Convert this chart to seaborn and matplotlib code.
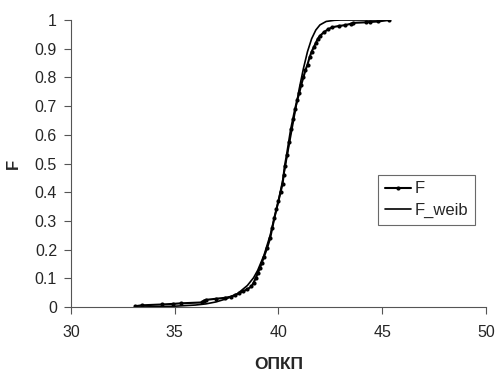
import numpy as np
import pandas as pd
import matplotlib
matplotlib.use('Agg')
import matplotlib.pyplot as plt
import seaborn as sns

# empirical distribution (ОПКП, F)
opkp_emp = [33.1, 33.4, 34.4, 34.9, 35.3, 36.3, 36.4, 36.5, 37.0, 37.4,
            37.7, 37.9, 38.1, 38.3, 38.5, 38.7, 38.8, 38.9, 39.0, 39.1,
            39.2, 39.3, 39.45, 39.6, 39.7, 39.8, 39.9, 40.0, 40.1, 40.2,
            40.25, 40.3, 40.4, 40.5, 40.6, 40.7, 40.8, 40.9, 41.0, 41.1,
            41.2, 41.3, 41.4, 41.5, 41.6, 41.7, 41.8, 41.9, 42.0, 42.2,
            42.4, 42.6, 42.9, 43.2, 43.5, 43.6, 44.2, 44.4, 44.8, 45.35]
f_emp = [0.003, 0.006, 0.009, 0.011, 0.013, 0.016, 0.022, 0.025, 0.029, 0.032,
         0.036, 0.042, 0.048, 0.055, 0.062, 0.072, 0.085, 0.100, 0.118, 0.135,
         0.155, 0.175, 0.205, 0.240, 0.275, 0.310, 0.340, 0.370, 0.400, 0.430,
         0.460, 0.490, 0.530, 0.575, 0.620, 0.655, 0.690, 0.720, 0.745, 0.775,
         0.800, 0.825, 0.845, 0.870, 0.890, 0.905, 0.920, 0.935, 0.945, 0.958,
         0.968, 0.975, 0.979, 0.982, 0.987, 0.990, 0.992, 0.993, 0.995, 1.000]

# fitted Weibull curve
opkp_weib = [33.1, 34.0, 35.0, 36.0, 36.5, 37.0, 37.5, 38.0, 38.5, 38.8,
             39.0, 39.3, 39.6, 39.8, 40.0, 40.2, 40.4, 40.6, 40.8, 41.0,
             41.2, 41.4, 41.6, 41.8, 42.0, 42.3, 42.7, 43.0, 45.35]
f_weib = [0.000, 0.001, 0.003, 0.007, 0.011, 0.018, 0.029, 0.045, 0.075, 0.102,
          0.128, 0.180, 0.250, 0.310, 0.370, 0.440, 0.520, 0.600, 0.680, 0.760,
          0.830, 0.890, 0.935, 0.965, 0.983, 0.995, 0.999, 1.000, 1.000]

df_emp = pd.DataFrame({'x': opkp_emp, 'F': f_emp})
df_weib = pd.DataFrame({'x': opkp_weib, 'F': f_weib})

sns.set_style('white')
plt.rcParams['font.family'] = ['Liberation Sans', 'DejaVu Sans']

fig = plt.figure(figsize=(5.02, 3.74), dpi=100)
ax = fig.add_axes([0.1414, 0.179, 0.8266, 0.7675])

sns.lineplot(data=df_emp, x='x', y='F', sort=False, ax=ax, color='black',
             linewidth=1.5, marker='o', markersize=3, markeredgewidth=0,
             label='F')
sns.lineplot(data=df_weib, x='x', y='F', sort=False, ax=ax, color='black',
             linewidth=1.2, label='F_weib')

ax.set_xlim(30, 50)
ax.set_ylim(0, 1)
ax.set_xticks(np.arange(30, 51, 5))
ax.set_yticks(np.arange(0, 1.01, 0.1))
ax.set_xticklabels([str(v) for v in range(30, 51, 5)])
ax.set_yticklabels(['0'] + ['%.1f' % v for v in np.arange(0.1, 1.0, 0.1)] + ['1'])
ax.tick_params(axis='both', direction='out', length=5, width=0.8,
               labelsize=11.5, color='#555555', bottom=True, left=True)
ax.tick_params(axis='x', pad=8)
ax.tick_params(axis='y', pad=5)

for s in ['top', 'right']:
    ax.spines[s].set_visible(False)
for s in ['left', 'bottom']:
    ax.spines[s].set_color('#555555')
    ax.spines[s].set_linewidth(0.8)

ax.set_xlabel('ОПКП', fontsize=12.5, fontweight='bold', labelpad=12)
ax.set_ylabel('F', fontsize=12, fontweight='bold', labelpad=10)

leg = ax.legend(loc='upper left', bbox_to_anchor=(0.72, 0.49), frameon=True,
                fancybox=False, fontsize=12, handlelength=1.6,
                handletextpad=0.2, borderpad=0.4, labelspacing=0.4)
leg.get_frame().set_edgecolor('#444444')
leg.get_frame().set_linewidth(0.8)

fig.savefig('out.png', dpi=100)
